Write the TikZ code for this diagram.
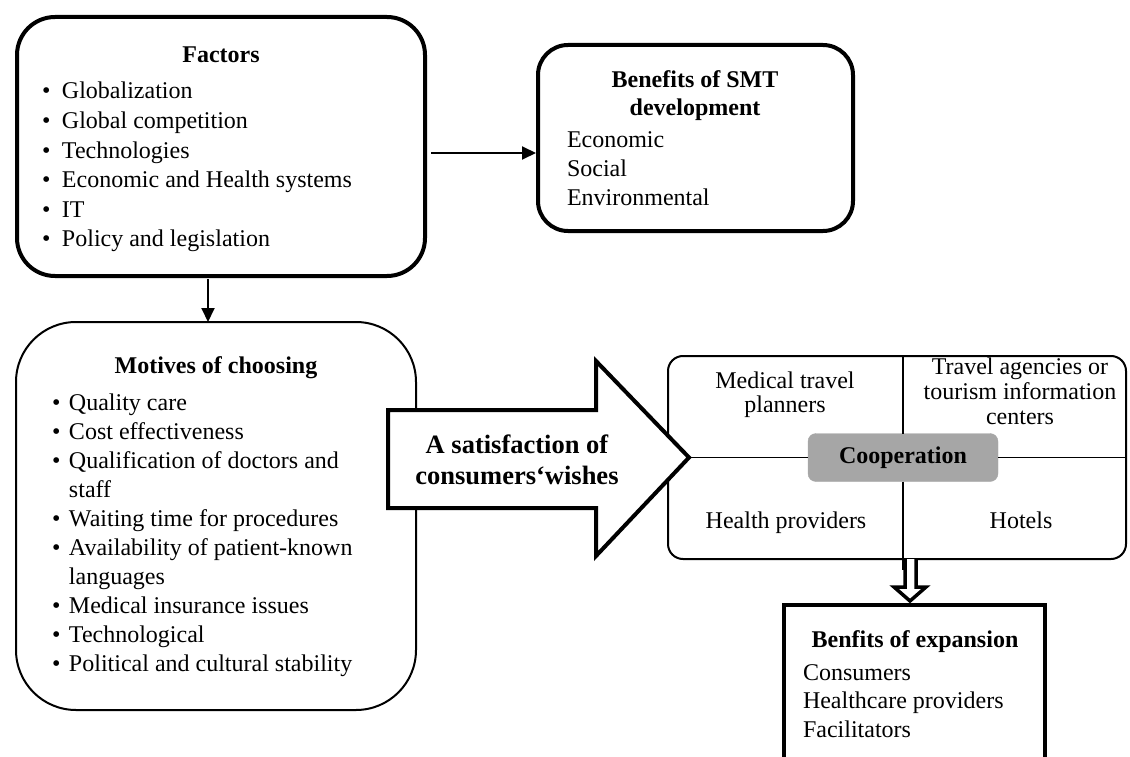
\documentclass[tikz,border=0pt]{standalone}
\usepackage{fontspec}
\setmainfont{Liberation Serif}
\usetikzlibrary{arrows.meta}
\begin{document}
\begin{tikzpicture}[x=1pt,y=-1pt,
  every node/.style={inner sep=0pt,outer sep=0pt},
  txt/.style={font=\fontsize{24}{29}\selectfont},
  ttl/.style={font=\fontsize{24}{29}\selectfont\bfseries},
  thickbox/.style={draw,line width=4pt},
  thinbox/.style={draw,line width=2pt},
  arr/.style={line width=2pt,-{Triangle[length=14pt,width=13pt]}},
  itm/.style={txt,anchor=base west}
]
\useasboundingbox (0,0) rectangle (1130,757);

% Factors
\node[thickbox,rounded corners=38pt,minimum width=408pt,minimum height=259pt] (factors) at (221,146.5) {};
\node[ttl,anchor=base] (ft) at (221,63) {Factors};
\foreach \t [count=\i] in {Globalization,Global competition,Technologies,Economic and Health systems,IT,Policy and legislation}
  \node[itm] (f\i) at (42,{99+29.5*(\i-1)}) {\makebox[20pt][l]{\textbullet}\t};

% Benefits of SMT development
\node[thickbox,rounded corners=30pt,minimum width=315pt,minimum height=186pt] (smt) at (695.5,138) {};
\node[ttl,anchor=base] (st1) at (695,88) {Benefits of SMT};
\node[ttl,anchor=base] (st2) at (695,116) {development};
\node[itm] (s1) at (567,148) {Economic};
\node[itm] (s2) at (567,176.5) {Social};
\node[itm] (s3) at (567,205) {Environmental};

\draw[arr,shorten <=6pt,shorten >=2pt] ([yshift=-6.5pt]factors.east) -- ([yshift=-6.5pt]factors.east -| smt.west);

% Motives
\node[thinbox,rounded corners=60pt,minimum width=400pt,minimum height=388pt] (motives) at (216,516) {};
\draw[arr,shorten <=3pt] ([xshift=-13pt]factors.south) -- ([xshift=-13pt]factors.south |- motives.north);
\node[ttl,anchor=base] (mt) at (216,373) {Motives of choosing};
\node[itm] (m1) at (52,410) {\makebox[17pt][l]{\textbullet}Quality care};
\node[itm] (m2) at (52,439) {\makebox[17pt][l]{\textbullet}Cost effectiveness};
\node[itm] (m3) at (52,468) {\makebox[17pt][l]{\textbullet}Qualification of doctors and};
\node[itm] (m3b) at (52,497) {\makebox[17pt][l]{}staff};
\node[itm] (m4) at (52,526) {\makebox[17pt][l]{\textbullet}Waiting time for procedures};
\node[itm] (m5) at (52,555) {\makebox[17pt][l]{\textbullet}Availability of patient-known};
\node[itm] (m5b) at (52,584) {\makebox[17pt][l]{}languages};
\node[itm] (m6) at (52,613) {\makebox[17pt][l]{\textbullet}Medical insurance issues};
\node[itm] (m7) at (52,642) {\makebox[17pt][l]{\textbullet}Technological};
\node[itm] (m8) at (52,671) {\makebox[17pt][l]{\textbullet}Political and cultural stability};

% Cooperation panel
\node[thinbox,rounded corners=15pt,minimum width=458pt,minimum height=203pt] (panel) at (897,457.5) {};
\node[draw=gray!70,fill=black!35,rounded corners=8pt,minimum width=190pt,minimum height=48pt,font=\fontsize{24}{29}\selectfont\bfseries] (coop) at (903,457.5) {Cooperation};
\draw[line width=1.5pt] (coop.north -| 903,0) -- (903,356);
\draw[line width=1.5pt] (coop.south -| 903,0) -- (903,570);
\coordinate (tip) at (689,457.5);
\draw[line width=1.5pt] (tip) -- (coop.west);
\draw[line width=1.5pt] (coop.east) -- (coop.east -| panel.east);

\node[txt,anchor=base] (p1a) at (785,388) {Medical travel};
\node[txt,anchor=base] (p1b) at (785,412) {planners};
\node[txt,anchor=base] (p2a) at (1020,374) {Travel agencies or};
\node[txt,anchor=base] (p2b) at (1020,399) {tourism information};
\node[txt,anchor=base] (p2c) at (1020,424) {centers};
\node[txt,anchor=base] (p3) at (786,528) {Health providers};
\node[txt,anchor=base] (p4) at (1021,528) {Hotels};

% Big arrow
\draw[line width=4pt,fill=white,line join=miter] (388,410) -- (596,410) -- (596,361) -- (tip) -- (596,556) -- (596,508) -- (388,508) -- cycle;
\node[font=\fontsize{26.5}{31}\selectfont\bfseries,anchor=base] (sat1) at (517,453) {A satisfaction of};
\node[font=\fontsize{26.5}{31}\selectfont\bfseries,anchor=base] (sat2) at (517,484) {consumers‘wishes};

% Hollow arrow down
\coordinate (htip) at (910,601);
\draw[line width=3.5pt,fill=white,line join=miter] (905,559) -- (905,587) -- (894,587) -- (htip) -- (926,587) -- (916,587) -- (916,559);

% Benefits of expansion
\coordinate (eb1) at (784,770);
\coordinate (eb2) at (1045,770);
\draw[line width=4pt,line join=miter] (eb1) -- (784,605) -- (1045,605) -- (eb2);
\node[ttl,anchor=base] (et) at (915,647) {Benfits of expansion};
\node[itm] (e1) at (803,680) {Consumers};
\node[itm] (e2) at (803,708.5) {Healthcare providers};
\node[itm] (e3) at (803,737) {Facilitators};
\end{tikzpicture}
\end{document}
